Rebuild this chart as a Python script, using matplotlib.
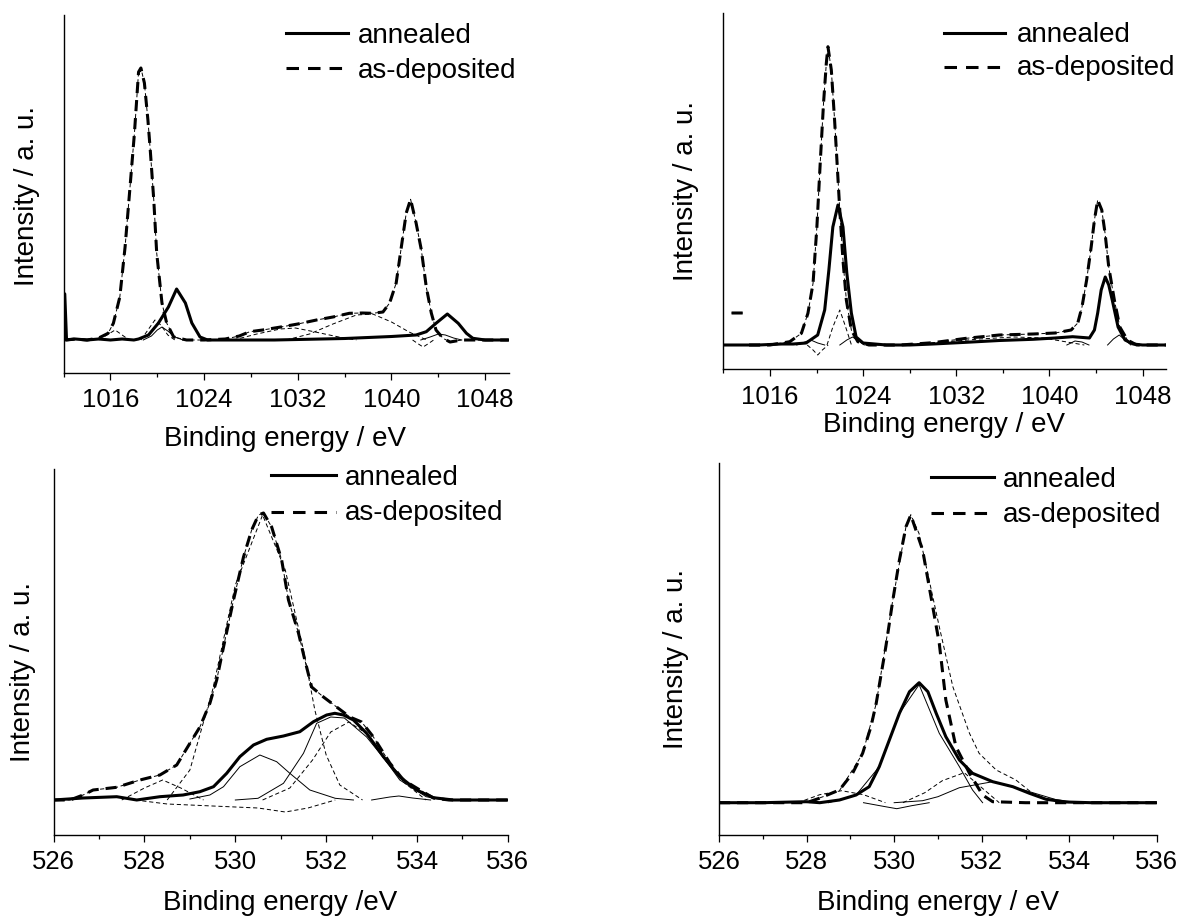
import matplotlib
matplotlib.use('Agg')
import matplotlib.pyplot as plt
from matplotlib.lines import Line2D
from matplotlib.ticker import MultipleLocator

plt.rcParams['font.family'] = ['Liberation Sans', 'DejaVu Sans']
plt.rcParams['lines.scale_dashes'] = False

nan = float('nan')

# ---- top left: Zn 2p, wide range ----
tl_ann_x = [1012.0, 1012.1, 1012.25, 1013, 1014, 1015, 1016, 1017, 1018, 1018.4, 1019.25, 1020.1,
            1020.95, 1021.65, 1022.4, 1022.95, 1023.65, 1024.3, 1026, 1028, 1030, 1032, 1034, 1036,
            1038, 1040, 1042.1, 1042.97, 1043.8, 1044.77, 1045.7, 1046.4, 1046.95, 1048, 1050]
tl_ann_y = [47, 46, 0, 1, 0, 1, 0, 1, 0, 1, 5, 17, 33, 51, 37, 17, 3, 0, 0, 0, 0, 0.5, 1, 1.5,
            2.5, 3.5, 5, 8.3, 16.7, 26, 16.7, 6.7, 1.7, 0, 0]
tl_dep_x = [1012.0, 1013, 1014, 1015, 1015.8, 1016.25, 1016.8, 1017.25, 1017.7, 1018.05, 1018.4,
            1018.6, 1018.9, 1019.2, 1019.4, 1019.7, 1019.95, 1020.4, 1020.8, 1021.4, 1022.5, 1024,
            1025.8, 1027, 1027.9, 1029, 1030.7, 1032, 1033.6, 1035, 1036.4, 1037.5, 1038.4, 1039.27,
            1039.84, 1040.4, 1040.84, 1041.26, 1041.63, 1042.1, 1042.55, 1042.97, 1043.4, 1043.8,
            1044.4, 1045, 1046, 1047, 1048, 1050]
tl_dep_y = [0, 1, 0, 2, 6.7, 16.7, 43, 93, 157, 207, 268, 272, 257, 220, 190, 140, 87, 37, 17, 3,
            0, 0, 1, 4, 8.3, 10, 13.3, 16, 20, 23, 26.7, 27, 26.7, 28, 37, 57, 93, 127, 140.7, 117,
            90, 53, 27, 10, 1.7, -2, 0, 0, 0, 0]
tl_c1_x = [1018.8, 1019.5, 1020.0, 1020.4, 1020.9, 1021.5, 1022.2]
tl_c1_y = [0, 4, 10, 13, 9, 3, 0]
tl_c2_x = [1042.5, 1043.3, 1044.0, 1044.6, 1045.3, 1046.0]
tl_c2_y = [0, 3, 6, 5, 2, 0]
tl_d1_x = [1015.0, 1015.7, 1016.4, 1017.0, 1017.6]
tl_d1_y = [0, 5, 10, 5, 0]
tl_d2_x = [1018.6, 1019.2, 1019.8, 1020.3, 1020.9, 1021.5]
tl_d2_y = [0, 10, 20, 15, 5, 0]
tl_d3_x = [1026.5, 1028.5, 1030.5, 1031.8, 1033.5, 1035.5, 1037.0]
tl_d3_y = [0, 6, 11, 12, 8, 3, 0]
tl_d4_x = [1031.0, 1033.0, 1035.0, 1037.0, 1038.4, 1040.0, 1041.5, 1043.0]
tl_d4_y = [0, 6, 16, 25, 26, 18, 8, 0]
tl_d5_x = [1041.8, 1042.3, 1042.7, 1043.1, 1043.6]
tl_d5_y = [0, -4, -7, -4, 0]

# ---- top right ----
tr_ann_x = [1012, 1015, 1017, 1018, 1019.1, 1020.1, 1020.7, 1021.06, 1021.4, 1021.84, 1022.27,
            1022.6, 1022.99, 1023.4, 1024, 1026, 1028, 1030, 1032.86, 1035.7, 1038.6, 1040.5, 1042,
            1043.44, 1043.87, 1044.15, 1044.45, 1044.8, 1045.1, 1045.4, 1045.9, 1046.5, 1047.2,
            1048, 1050]
tr_ann_y = [0, 0, 1, 1, 2, 10, 35, 75, 118, 140, 118, 72, 32, 8, 2, 0, 0, 1, 2.7, 4.5, 5.7, 7,
            8.3, 7, 15, 32, 55, 68, 60, 45, 18, 5, 1, 0, 0]
tr_dep_x = [1012.7, 1013.85, nan, 1014.2, 1016, 1017.7, 1018.7, 1019.26, 1019.7, 1020.03, 1020.33,
            1020.6, 1020.84, 1020.98, 1021.27, 1021.55, 1021.75, 1021.98, 1022.27, 1022.56, 1022.99,
            1023.55, 1024.5, 1027.2, 1030, 1032.86, 1035.7, 1038.6, 1040.5, 1041.87, 1042.44,
            1042.8, 1043.2, 1043.59, 1043.87, 1044.15, 1044.5, 1044.78, 1045.1, 1045.58, 1046.05,
            1046.7, 1047.5, 1050]
tr_dep_y = [32, 32, nan, 0, 0, 3.3, 11.7, 31.7, 61.7, 118, 185, 241.7, 281.7, 298.3, 275, 225,
            185, 138, 85, 45, 15, 3.3, 0, 0, 2.3, 6.7, 10, 11, 12, 15, 22, 38, 65, 98, 125, 145,
            135, 112, 78, 45, 18, 5, 0, 0]
tr_c1_x = [1022.0, 1022.6, 1023.1, 1023.6, 1024.1]
tr_c1_y = [0, 5, 8, 4, 0]
tr_c2_x = [1018.3, 1019.0, 1019.5, 1020.1, 1020.7]
tr_c2_y = [0, 3, 5, 2, 0]
tr_c3_x = [1045.0, 1045.5, 1046.0, 1046.5, 1047.0]
tr_c3_y = [0, 6, 10, 5, 0]
tr_c4_x = [1041.5, 1042.2, 1042.8, 1043.4]
tr_c4_y = [0, 4, 3, 0]
tr_d1_x = [1020.9, 1021.4, 1022.0, 1022.5, 1023.0]
tr_d1_y = [0, 18, 35, 18, 0]
tr_d2_x = [1019.2, 1019.7, 1020.1, 1020.5, 1021.0]
tr_d2_y = [0, -5, -10, -5, 0]
tr_d3_x = [1028, 1031, 1034, 1037, 1039.5, 1041.5, 1043]
tr_d3_y = [0, 3, 6, 8, 7, 3, 0]

# ---- bottom left: O 1s ----
bl_ann_x = [526.0, 526.65, 527.39, 527.83, 528.34, 528.85, 529.22, 529.52, 529.81, 530.1, 530.4,
            530.69, 531.06, 531.42, 531.72, 532.01, 532.19, 532.38, 532.6, 532.89, 533.26, 533.62,
            533.99, 534.36, 534.8, 535.5, 536.0]
bl_ann_y = [0, 2, 3.3, 0, 3.3, 5, 8.3, 13.3, 26.7, 43.3, 55, 60.7, 64, 68.3, 78.3, 85, 86.7, 85,
            80, 66.7, 43.3, 23.3, 10, 2.3, 0, 0, 0]
bl_dep_x = [526.0, 526.36, 526.65, 526.87, 527.39, 527.9, 528.34, 528.71, 529.0, 529.22, 529.44,
            529.59, 529.74, 529.96, 530.18, 530.36, 530.51, 530.62, 530.8, 531.02, 531.17, 531.39,
            531.53, 531.68, 531.94, 532.23, 532.52, 532.78, 533.04, 533.4, 533.7, 533.99, 534.36,
            534.7, 535.3, 536.0]
bl_dep_y = [0, 0, 5, 10, 12.7, 20, 25, 35, 56.7, 73, 96.7, 120, 153, 200, 243, 270, 285, 287,
            273, 240, 200, 167, 140, 113, 103, 93, 83, 78, 63, 37, 20, 12, 2, 0, 0, 0]
bl_c1_x = [529.0, 529.44, 529.74, 530.1, 530.54, 530.91, 531.2, 531.64, 532.2, 532.6]
bl_c1_y = [1, 5, 13.3, 33.3, 45, 38.3, 26.7, 10, 1.7, 0]
bl_c2_x = [530.0, 530.5, 531.06, 531.5, 531.79, 532.1, 532.4, 532.89, 533.3, 533.62, 534.2, 534.6]
bl_c2_y = [0, 1.7, 16.7, 46.7, 76.7, 83, 82, 63, 40, 20, 3.3, 0]
bl_c3_x = [533.0, 533.4, 533.6, 533.9, 534.3]
bl_c3_y = [0, 3, 4, 2, 0]
bl_d1_x = [528.5, 529.0, 529.5, 530.0, 530.6, 531.1, 531.5, 531.75, 532.0, 532.3, 532.8]
bl_d1_y = [0, 30, 110, 215, 285, 230, 150, 90, 45, 15, 0]
bl_d2_x = [530.6, 531.2, 531.7, 532.1, 532.5, 532.9, 533.3, 533.7, 534.2]
bl_d2_y = [0, 12, 40, 68, 78, 66, 40, 18, 0]
bl_d3_x = [527.5, 528.0, 528.4, 528.8, 529.3]
bl_d3_y = [0, 12, 20, 12, 0]
bl_d4_x = [527.8, 528.5, 529.5, 530.5, 531.1, 531.6, 532.2]
bl_d4_y = [0, -4, -6, -8, -12, -8, 0]

# ---- bottom right ----
br_ann_x = [526.0, 527.0, 528.0, 528.3, 528.75, 529.13, 529.43, 529.66, 529.89, 530.12, 530.35,
            530.57, 530.77, 530.96, 531.18, 531.49, 531.79, 532.25, 532.71, 533.09, 533.47, 533.93,
            534.5, 535.0, 536.0]
br_ann_y = [0, 0, 1, 0, 2.7, 7.7, 16, 36, 62.7, 89.4, 111, 120, 111, 89.4, 66, 42.7, 29.4, 21,
            16, 9.4, 3.4, 0.7, 0, 0, 0]
br_dep_x = [526.0, 527.0, 528.0, 528.29, 528.75, 529.05, 529.28, 529.47, 529.59, 529.81, 529.97,
            530.12, 530.27, 530.38, 530.65, 530.8, 531.03, 531.18, 531.41, 531.72, 532.02, 532.25,
            533.0, 534.0, 536.0]
br_dep_y = [0, 0, 0, 4.4, 12.7, 29.4, 49.4, 76, 99.4, 156, 202.7, 242.7, 276, 287.7, 252.7, 216,
            159.4, 102.7, 56, 29.4, 7.7, 1, 0, 0, 0]
br_fit_x = [528.0, 528.75, 529.28, 529.59, 529.97, 530.27, 530.38, 530.57, 531.03, 531.34, 531.72,
            531.94, 532.33, 532.78, 533.16, 533.55, 534.0]
br_fit_y = [0, 12, 49, 99, 203, 276, 288, 269, 176, 116, 69.4, 49.4, 32.7, 22.7, 9.4, 2.7, 0]
br_c1_x = [528.5, 529.13, 529.66, 530.12, 530.57, 531.03, 531.49, 531.79, 532.02]
br_c1_y = [0, 7.7, 36, 89.4, 118, 69.4, 36, 12.7, 0]
br_c2_x = [530.0, 530.65, 531.0, 531.49, 532.25, 532.94, 533.7, 534.2]
br_c2_y = [0, 2, 6, 15, 21, 13, 3, 0]
br_c3_x = [529.3, 529.8, 530.06, 530.4, 530.8]
br_c3_y = [0, -4, -6, -3, 0]
br_d1_x = [530.2, 530.7, 531.1, 531.6, 532.0, 532.4]
br_d1_y = [0, 10, 22, 30, 15, 0]
br_d2_x = [527.8, 528.3, 528.8, 529.3, 529.8]
br_d2_y = [0, 8, 12, 8, 0]

W, H = 1183, 917
THICK = 2.2
THIN = 0.7
DEP_DASH = (8, 5)
FIT_DASH = (3, 2)
LEG_DASH = (9, 6.5)

fig = plt.figure(figsize=(W / 100, H / 100), dpi=100)


def px_box(left, top, right, bottom):
    return [left / W, 1 - bottom / H, (right - left) / W, (bottom - top) / H]


def draw_panel(box, xlim, ylim, major, minor, ann, dep, solid_fits, dashed_fits):
    ax = fig.add_axes(box)
    for x, y in solid_fits:
        ax.plot(x, y, color='black', lw=THIN)
    for x, y in dashed_fits:
        ax.plot(x, y, color='black', lw=THIN, dashes=FIT_DASH)
    ax.plot(ann[0], ann[1], color='black', lw=THICK)
    ax.plot(dep[0], dep[1], color='black', lw=THICK, dashes=DEP_DASH)
    ax.set_xlim(xlim)
    ax.set_ylim(ylim)
    ax.xaxis.set_major_locator(MultipleLocator(major))
    ax.xaxis.set_minor_locator(MultipleLocator(minor))
    ax.tick_params(axis='x', which='major', direction='out', length=5, width=0.9,
                   labelsize=18.5, pad=6)
    ax.tick_params(axis='x', which='minor', direction='out', length=3, width=0.9)
    ax.tick_params(axis='y', left=False, labelleft=False)
    for side in ('top', 'right'):
        ax.spines[side].set_visible(False)
    for side in ('left', 'bottom'):
        ax.spines[side].set_linewidth(1.0)
    return ax


def add_legend(x0, x1, tx, rows, bases):
    styles = [dict(), dict(dashes=LEG_DASH)]
    for row, base, label, st in zip(rows, bases, ['annealed', 'as-deposited'], styles):
        fig.add_artist(Line2D([x0 / W, x1 / W], [1 - row / H, 1 - row / H],
                              transform=fig.transFigure, color='black', lw=THICK, **st))
        fig.text(tx / W, 1 - base / H, label, fontsize=20, va='baseline', ha='left')


def add_labels(ylab_xy, xlab_xy, xlabel):
    fig.text(ylab_xy[0] / W, 1 - ylab_xy[1] / H, 'Intensity / a. u.', rotation=90,
             ha='center', va='center', fontsize=20)
    fig.text(xlab_xy[0] / W, 1 - xlab_xy[1] / H, xlabel, ha='center', va='baseline',
             fontsize=20)


draw_panel(px_box(63.6, 15, 508.6, 373), (1012, 1050), (-33, 325), 8, 4,
           (tl_ann_x, tl_ann_y), (tl_dep_x, tl_dep_y),
           [(tl_c1_x, tl_c1_y), (tl_c2_x, tl_c2_y)],
           [(tl_d1_x, tl_d1_y), (tl_d2_x, tl_d2_y), (tl_d3_x, tl_d3_y), (tl_d4_x, tl_d4_y),
            (tl_d5_x, tl_d5_y), (tl_dep_x, tl_dep_y)])
add_legend(285.7, 348.2, 358.2, (33.3, 68.3), (43.3, 78.3))
add_labels((27.5, 196), (284.8, 446), 'Binding energy / eV')

draw_panel(px_box(723.4, 13.3, 1165.8, 369.3), (1012, 1050), (-24.3, 331.7), 8, 4,
           (tr_ann_x, tr_ann_y), (tr_dep_x, tr_dep_y),
           [(tr_c1_x, tr_c1_y), (tr_c2_x, tr_c2_y), (tr_c3_x, tr_c3_y), (tr_c4_x, tr_c4_y)],
           [(tr_d1_x, tr_d1_y), (tr_d2_x, tr_d2_y), (tr_d3_x, tr_d3_y), (tr_dep_x, tr_dep_y)])
add_legend(943.9, 1005.2, 1016.4, (33.3, 66.7), (41.7, 75))
add_labels((686.2, 191), (943.9, 432), 'Binding energy / eV')

draw_panel(px_box(53.6, 469.3, 507.9, 835), (526, 536), (-35, 330.7), 2, 1,
           (bl_ann_x, bl_ann_y), (bl_dep_x, bl_dep_y),
           [(bl_c1_x, bl_c1_y), (bl_c2_x, bl_c2_y), (bl_c3_x, bl_c3_y)],
           [(bl_d1_x, bl_d1_y), (bl_d2_x, bl_d2_y), (bl_d3_x, bl_d3_y), (bl_d4_x, bl_d4_y),
            (bl_dep_x, bl_dep_y)])
add_legend(271.4, 335.7, 344.6, (475, 511.7), (485, 520))
add_labels((23.2, 672.5), (280.4, 910), 'Binding energy /eV')

draw_panel(px_box(719, 462.7, 1156.9, 835), (526, 536), (-32.3, 340), 2, 1,
           (br_ann_x, br_ann_y), (br_dep_x, br_dep_y),
           [(br_c1_x, br_c1_y), (br_c2_x, br_c2_y), (br_c3_x, br_c3_y)],
           [(br_fit_x, br_fit_y), (br_d1_x, br_d1_y), (br_d2_x, br_d2_y)])
add_legend(930.9, 994, 1003.3, (477.3, 512.7), (486.7, 521.7))
add_labels((676.2, 659.2), (938.3, 910), 'Binding energy / eV')

fig.savefig('out.png', dpi=100)
